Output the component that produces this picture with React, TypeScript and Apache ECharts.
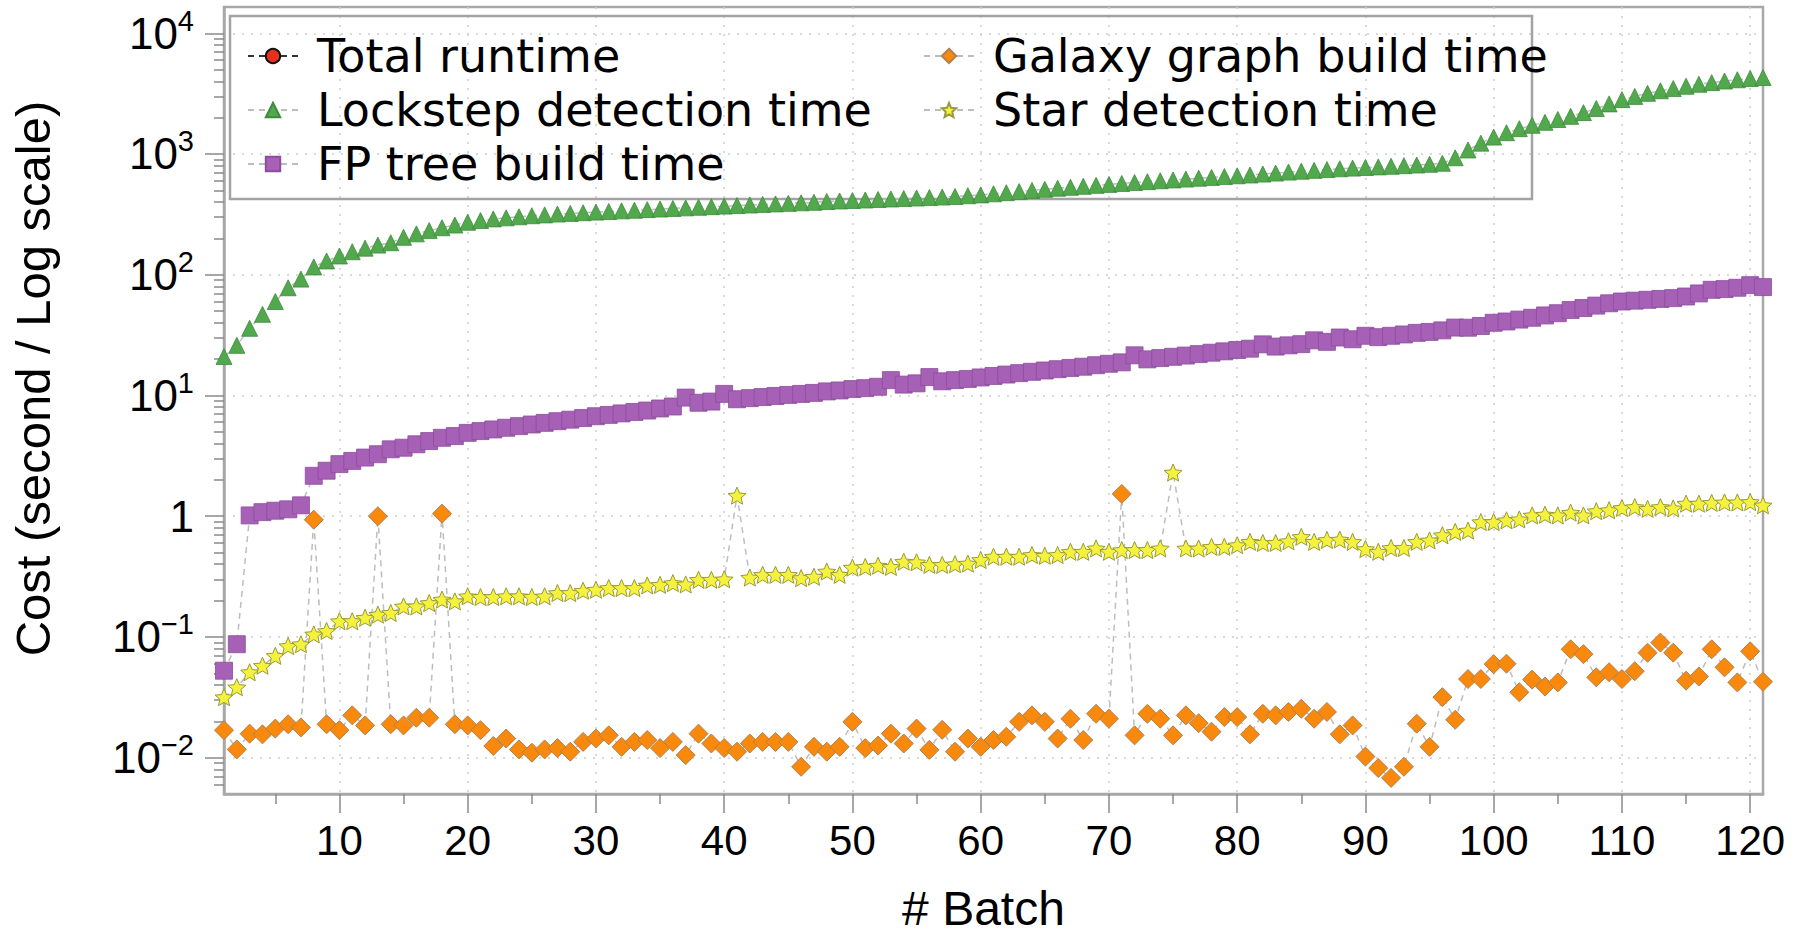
import React, { useEffect, useRef } from 'react';
import * as echarts from 'echarts';

const FONT = '"Liberation Sans", Arial, Helvetica, sans-serif';
const LEGEND_FONT = '"DejaVu Sans", "Liberation Sans", Arial, sans-serif';

// Batch numbers (x categories)
const batches: number[] = Array.from({ length: 121 }, (_, i) => i + 1);

const seriesNames = [
  'Total runtime',
  'Lockstep detection time',
  'FP tree build time',
  'Galaxy graph build time',
  'Star detection time',
];

// Total runtime: no marks visible in the plot (legend entry only)
const totalRuntime: number[] = [];

const lockstep: number[] = [
  21, 26, 36, 47, 60, 78, 92, 116, 130, 143,
  155, 166, 176, 184, 204, 218, 232, 245, 258, 272,
  281, 290, 296, 302, 308, 313, 318, 322, 326, 330,
  334, 338, 342, 346, 350, 354, 358, 362, 366, 370,
  374, 378, 382, 386, 390, 394, 398, 404, 408, 412,
  416, 420, 424, 428, 432, 436, 440, 445, 451, 458,
  468, 478, 488, 499, 510, 521, 530, 540, 550, 560,
  570, 580, 590, 600, 610, 620, 630, 640, 650, 660,
  670, 682, 695, 708, 720, 732, 743, 754, 764, 773,
  782, 791, 800, 810, 822, 838, 930, 1080, 1230, 1380,
  1500, 1620, 1730, 1830, 1930, 2050, 2200, 2380, 2600, 2820,
  3000, 3180, 3340, 3480, 3640, 3780, 3900, 4020, 4120, 4220,
  4300,
];

const fpTree: number[] = [
  0.0525, 0.087, 1.015, 1.08, 1.11, 1.14, 1.23, 2.16, 2.38, 2.7,
  2.87, 3.06, 3.26, 3.58, 3.69, 3.94, 4.19, 4.46, 4.61, 4.9,
  5.07, 5.23, 5.4, 5.57, 5.75, 5.93, 6.12, 6.3, 6.5, 6.73,
  6.9, 7.1, 7.3, 7.5, 7.8, 8.1, 9.6, 8.7, 8.9, 10.3,
  9.3, 9.5, 9.7, 9.9, 10.1, 10.3, 10.5, 10.8, 11.0, 11.3,
  11.5, 11.8, 13.4, 12.3, 12.6, 14.2, 13.1, 13.4, 13.7, 14.1,
  14.5, 14.9, 15.3, 15.7, 16.1, 16.5, 16.9, 17.3, 17.8, 18.3,
  18.8, 21.5, 19.9, 20.4, 20.9, 21.4, 22.0, 22.6, 23.2, 23.8,
  24.4, 26.5, 25.4, 26.0, 26.6, 28.6, 27.8, 30.2, 29.2, 31.2,
  30.4, 31.2, 32.0, 33.0, 33.6, 34.6, 36.5, 36.4, 37.6, 40.0,
  41.0, 42.5, 44.0, 46.0, 48.0, 51.0, 53.0, 55.5, 58.0, 60.0,
  61.0, 62.0, 63.0, 64.0, 66.0, 70.0, 75.0, 76.0, 78.0, 82.0,
  79.0,
];

const galaxy: number[] = [
  0.0169, 0.0117, 0.0158, 0.0156, 0.0174, 0.0189, 0.0178, 0.935, 0.0189, 0.0169,
  0.0224, 0.0185, 1.0, 0.0189, 0.0185, 0.0214, 0.0214, 1.05, 0.0189, 0.0185,
  0.0169, 0.0125, 0.0144, 0.0117, 0.011, 0.0117, 0.012, 0.0112, 0.0135, 0.0144,
  0.0153, 0.0123, 0.0135, 0.014, 0.012, 0.0135, 0.0105, 0.0158, 0.0131, 0.012,
  0.0112, 0.0131, 0.0135, 0.0135, 0.0135, 0.0084, 0.0123, 0.0112, 0.0123, 0.0198,
  0.012, 0.0126, 0.0158, 0.0131, 0.0174, 0.0116, 0.017, 0.0112, 0.0144, 0.0123,
  0.014, 0.0149, 0.0198, 0.0224, 0.0198, 0.0144, 0.021, 0.014, 0.0231, 0.021,
  1.53, 0.0153, 0.0231, 0.021, 0.0153, 0.0224, 0.0193, 0.0164, 0.0217, 0.0217,
  0.0156, 0.0231, 0.0224, 0.0239, 0.0254, 0.021, 0.0239, 0.0156, 0.0185, 0.0102,
  0.0082, 0.0068, 0.0084, 0.0191, 0.0123, 0.0317, 0.0206, 0.0448, 0.0448, 0.0595,
  0.06, 0.0348, 0.0443, 0.0388, 0.042, 0.079, 0.072, 0.0463, 0.051, 0.0448,
  0.052, 0.074, 0.0897, 0.074, 0.0434, 0.047, 0.079, 0.056, 0.042, 0.076,
  0.0425,
];

const star: number[] = [
  0.0317, 0.0383, 0.051, 0.0577, 0.0697, 0.084, 0.087, 0.105, 0.112, 0.135,
  0.135, 0.144, 0.153, 0.158, 0.179, 0.179, 0.191, 0.204, 0.197, 0.217,
  0.214, 0.214, 0.217, 0.217, 0.214, 0.217, 0.231, 0.231, 0.241, 0.246,
  0.254, 0.254, 0.254, 0.267, 0.27, 0.279, 0.272, 0.297, 0.297, 0.3,
  1.48, 0.31, 0.327, 0.327, 0.327, 0.307, 0.315, 0.348, 0.327, 0.375,
  0.38, 0.389, 0.38, 0.42, 0.415, 0.395, 0.395, 0.4, 0.405, 0.434,
  0.462, 0.462, 0.462, 0.477, 0.47, 0.477, 0.507, 0.507, 0.541, 0.507,
  0.524, 0.524, 0.524, 0.541, 2.3, 0.541, 0.54, 0.557, 0.557, 0.575,
  0.613, 0.6, 0.6, 0.62, 0.674, 0.613, 0.635, 0.64, 0.613, 0.534,
  0.507, 0.545, 0.545, 0.613, 0.63, 0.696, 0.741, 0.76, 0.894, 0.894,
  0.924, 0.94, 1.015, 1.03, 1.015, 1.07, 1.015, 1.1, 1.12, 1.17,
  1.19, 1.15, 1.19, 1.16, 1.27, 1.27, 1.29, 1.3, 1.3, 1.31,
  1.23,
];

// Axis ticks
const xMajorTicks = [10, 20, 30, 40, 50, 60, 70, 80, 90, 100, 110, 120];
const xMinorTicks = [5, 15, 25, 35, 45, 55, 65, 75, 85, 95, 105, 115];
const yMajorTicks = [0.01, 0.1, 1, 10, 100, 1000, 10000];
const yMinorTicks = [
  0.006, 0.007, 0.008, 0.009,
  0.02, 0.03, 0.04, 0.05, 0.06, 0.07, 0.08, 0.09,
  0.2, 0.3, 0.4, 0.5, 0.6, 0.7, 0.8, 0.9,
  2, 3, 4, 5, 6, 7, 8, 9,
  20, 30, 40, 50, 60, 70, 80, 90,
  200, 300, 400, 500, 600, 700, 800, 900,
  2000, 3000, 4000, 5000, 6000, 7000, 8000, 9000,
];

const X_MIN = 1;
const X_MAX = 121;
const Y_MIN = 0.005;
const Y_MAX = 16500;

const STAR_PATH =
  'path://M12,1 L15.09,8.26 L23,8.97 L17,14.14 L18.82,21.9 L12,17.77 L5.18,21.9 L7,14.14 L1,8.97 L8.91,8.26 Z';

const frameColor = '#a8a8a8';
const tickColor = '#8a8a8a';
const gridLine = { color: '#cdcdcd', type: [2, 7] as number[], width: 1.5 };
const seriesLine = { color: '#bdbdbd', type: [6, 5] as number[], width: 1.5 };

function pair(vals: number[]) {
  return vals.map((v, i) => [batches[i], v]);
}

function yLabel(v: number): string {
  const e = Math.round(Math.log10(v));
  if (e === 0) return '{b|1}';
  const s = e < 0 ? '\u2212' + String(-e) : String(e);
  return '{b|10}{s|' + s + '}';
}

export default function App() {
  const ref = useRef<HTMLDivElement>(null);

  useEffect(() => {
    if (!ref.current) return;
    const chart = echarts.init(ref.current, undefined, { renderer: 'svg' });
    const legendText = {
      fontSize: 46,
      lineHeight: 54,
      color: '#000',
      fontFamily: LEGEND_FONT,
      padding: [0, 0, 0, 14],
    };
    const option: any = {
      animation: false,
      backgroundColor: '#ffffff',
      textStyle: { fontFamily: FONT },
      grid: {
        left: 223,
        right: 39,
        top: 7,
        bottom: 136,
        show: true,
        borderColor: frameColor,
        borderWidth: 2.5,
        backgroundColor: 'transparent',
      },
      xAxis: [
        {
          type: 'value',
          min: X_MIN,
          max: X_MAX,
          position: 'bottom',
          name: '# Batch',
          nameLocation: 'middle',
          nameGap: 90,
          nameTextStyle: { fontSize: 48, color: '#000', fontFamily: FONT, padding: [0, 20, 0, 0] },
          axisLine: { show: true, onZero: false, lineStyle: { color: frameColor, width: 2.5 } },
          axisTick: { show: true, length: 19, customValues: xMajorTicks, lineStyle: { color: tickColor, width: 1.5 } },
          axisLabel: { customValues: xMajorTicks, fontSize: 42, color: '#000', margin: 25, fontFamily: FONT },
          splitLine: { show: true, lineStyle: gridLine },
        },
        {
          type: 'value',
          min: X_MIN,
          max: X_MAX,
          position: 'bottom',
          axisLine: { show: false, onZero: false },
          axisTick: { show: true, length: 10, customValues: xMinorTicks, lineStyle: { color: tickColor, width: 1.5 } },
          axisLabel: { show: false },
          splitLine: { show: false },
        },
      ],
      yAxis: [
        {
          type: 'log',
          logBase: 10,
          min: Y_MIN,
          max: Y_MAX,
          position: 'left',
          name: 'Cost (second / Log scale)',
          nameLocation: 'middle',
          nameGap: 167,
          nameTextStyle: { fontSize: 49, color: '#000', fontFamily: FONT, padding: [0, 0, 0, 44] },
          axisLine: { show: true, onZero: false, lineStyle: { color: frameColor, width: 2.5 } },
          axisTick: { show: true, length: 19, customValues: yMajorTicks, lineStyle: { color: tickColor, width: 1.5 } },
          axisLabel: {
            customValues: yMajorTicks,
            margin: 30,
            color: '#000',
            formatter: yLabel,
            rich: {
              b: { fontSize: 44, lineHeight: 54, verticalAlign: 'middle', color: '#000', fontFamily: FONT },
              s: { fontSize: 29, lineHeight: 30, verticalAlign: 'top', color: '#000', fontFamily: FONT },
            },
          },
          splitLine: { show: true, lineStyle: gridLine },
        },
        {
          type: 'log',
          logBase: 10,
          min: Y_MIN,
          max: Y_MAX,
          position: 'left',
          axisLine: { show: false, onZero: false },
          axisTick: { show: true, length: 10, customValues: yMinorTicks, lineStyle: { color: tickColor, width: 1.5 } },
          axisLabel: { show: false },
          splitLine: { show: false },
        },
      ],
      legend: [
        {
          data: seriesNames.slice(0, 3),
          orient: 'vertical',
          left: 247,
          top: 29,
          padding: 0,
          itemWidth: 50,
          itemHeight: 18,
          itemGap: 0,
          selectedMode: false,
          textStyle: legendText,
        },
        {
          data: seriesNames.slice(3),
          orient: 'vertical',
          left: 923,
          top: 29,
          padding: 0,
          itemWidth: 50,
          itemHeight: 18,
          itemGap: 0,
          selectedMode: false,
          textStyle: legendText,
        },
      ],
      graphic: [
        {
          type: 'rect',
          silent: true,
          z: 1,
          shape: { x: 230, y: 16, width: 1302, height: 183 },
          style: { fill: 'none', stroke: '#a3a3a3', lineWidth: 2.5 },
        },
      ],
      series: [
        {
          name: seriesNames[0],
          type: 'line',
          data: pair(totalRuntime),
          symbol: 'circle',
          symbolSize: 15,
          itemStyle: { color: '#e8301e', borderColor: '#111', borderWidth: 1.5 },
          lineStyle: { color: '#333', type: [6, 5], width: 1.5 },
        },
        {
          name: seriesNames[1],
          type: 'line',
          data: pair(lockstep),
          symbol: 'triangle',
          symbolSize: 16,
          itemStyle: { color: '#52a84c', borderColor: '#3f8a3c', borderWidth: 0.8 },
          lineStyle: seriesLine,
        },
        {
          name: seriesNames[2],
          type: 'line',
          data: pair(fpTree),
          symbol: 'rect',
          symbolSize: 17,
          itemStyle: { color: '#a660b6', borderColor: '#8c4d9c', borderWidth: 0.8 },
          lineStyle: seriesLine,
        },
        {
          name: seriesNames[3],
          type: 'line',
          data: pair(galaxy),
          symbol: 'diamond',
          symbolSize: 19,
          itemStyle: { color: '#f8890c', borderColor: '#b08050', borderWidth: 1 },
          lineStyle: seriesLine,
        },
        {
          name: seriesNames[4],
          type: 'line',
          data: pair(star),
          symbol: STAR_PATH,
          symbolSize: 18,
          symbolKeepAspect: true,
          itemStyle: { color: '#f4f23c', borderColor: '#9a9a3a', borderWidth: 1 },
          lineStyle: seriesLine,
        },
      ],
    };
    chart.setOption(option);
    return () => {
      chart.dispose();
    };
  }, []);

  return (
    <div
      ref={ref}
      style={{ position: 'fixed', left: 0, top: 0, width: 1802, height: 937, background: '#fff' }}
    />
  );
}
